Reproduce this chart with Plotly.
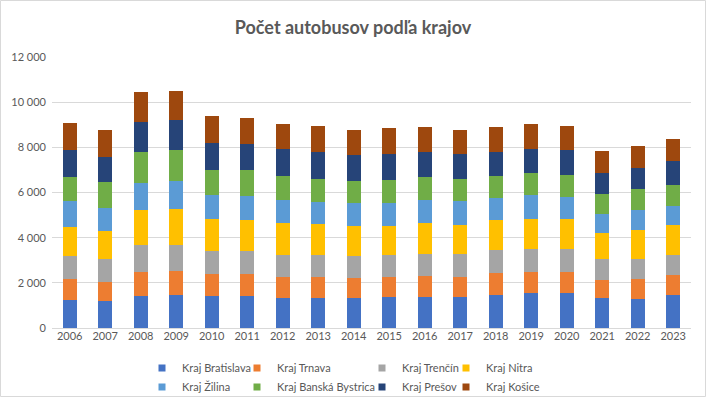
import plotly.graph_objects as go

years = [str(y) for y in range(2006, 2024)]

regions = ["Kraj Bratislava", "Kraj Trnava", "Kraj Trenčín", "Kraj Nitra",
           "Kraj Žilina", "Kraj Banská Bystrica", "Kraj Prešov", "Kraj Košice"]

bratislava = [1250, 1207, 1428, 1472, 1428, 1428, 1340, 1340, 1340, 1384, 1384, 1384, 1472, 1561, 1561, 1340, 1296, 1472]
trnava     = [930, 840, 1060, 1060, 972, 972, 927, 927, 883, 883, 928, 883, 972, 927, 927, 795, 883, 884]
trencin    = [1015, 1015, 1193, 1149, 1016, 1016, 972, 972, 972, 972, 971, 1016, 1016, 1016, 1016, 927, 883, 883]
nitra      = [1280, 1237, 1546, 1590, 1413, 1369, 1413, 1369, 1325, 1281, 1369, 1281, 1325, 1325, 1325, 1149, 1281, 1325]
zilina     = [1135, 1031, 1178, 1237, 1060, 1075, 1031, 987, 1016, 1016, 1031, 1060, 986, 1060, 972, 854, 898, 854]
banska     = [1075, 1134, 1384, 1369, 1104, 1133, 1046, 1001, 972, 1016, 1002, 972, 958, 972, 972, 868, 913, 913]
presov     = [1190, 1104, 1325, 1325, 1193, 1149, 1192, 1193, 1148, 1148, 1104, 1104, 1060, 1060, 1104, 928, 928, 1060]
kosice     = [1190, 1192, 1325, 1281, 1193, 1148, 1104, 1148, 1104, 1149, 1104, 1060, 1104, 1104, 1060, 972, 972, 972]

series = [bratislava, trnava, trencin, nitra, zilina, banska, presov, kosice]
colors = ["#4472C4", "#ED7D31", "#A5A5A5", "#FFC000",
          "#5B9BD5", "#70AD47", "#264478", "#9E480E"]

y_tickvals = [0, 2000, 4000, 6000, 8000, 10000, 12000]
y_ticktext = ["0", "2 000", "4 000", "6 000", "8 000", "10 000", "12 000"]

W, H = 706, 397
ML, MR, MT, MB = 52, 15, 57, 69
PW, PH = W - ML - MR, H - MT - MB

def px_to_xp(px):
    return (px - ML) / PW

def py_to_yp(py):
    return (H - MB - py) / PH

FONT = "Lato"
TXT = "#595959"
FS = 11

# legend columns: (legend id, trace indices, text start px)
legend_cols = [("legend", [0, 4], 182), ("legend2", [1, 5], 277),
               ("legend3", [2, 6], 402), ("legend4", [3, 7], 486)]
trace_legend = {}
for lid, idxs, _ in legend_cols:
    for i in idxs:
        trace_legend[i] = lid

fig = go.Figure()
for i, (name, vals, col) in enumerate(zip(regions, series, colors)):
    fig.add_trace(go.Bar(
        x=years, y=vals, name=name, marker=dict(color=col, line=dict(width=0)),
        legendgroup=name, showlegend=False,
    ))
# legend entries (small square keys like the reference)
for i, (name, col) in enumerate(zip(regions, colors)):
    fig.add_trace(go.Scatter(
        x=[None], y=[None], mode="markers", name=name, legendgroup=name,
        marker=dict(symbol="square", size=7, color=col, line=dict(width=0)),
        legend=trace_legend[i], showlegend=True, hoverinfo="skip",
    ))

legend_common = dict(
    orientation="v", yanchor="middle", y=py_to_yp(377.5), xanchor="left",
    font=dict(family=FONT, size=FS, color=TXT), bgcolor="rgba(0,0,0,0)",
    tracegroupgap=0, traceorder="normal", itemsizing="trace",
)
layout_legends = {}
for lid, _, tx in legend_cols:
    layout_legends[lid] = dict(legend_common, x=px_to_xp(tx - 40))

fig.update_layout(
    width=W, height=H,
    margin=dict(l=ML, r=MR, t=MT, b=MB, autoexpand=False),
    barmode="stack", bargap=0.6,
    paper_bgcolor="white", plot_bgcolor="white",
    font=dict(family=FONT, size=FS, color=TXT),
    title=dict(text="Počet autobusov podľa krajov", x=0.5, xref="container", xanchor="center",
               y=1 - 28 / H, yanchor="middle",
               font=dict(family=FONT, size=18, color=TXT, weight="bold")),
    xaxis=dict(type="category", showgrid=False, showline=True, linecolor="#D9D9D9",
               linewidth=1, ticks="", ticklabelstandoff=-2,
               tickfont=dict(family=FONT, size=FS, color=TXT)),
    yaxis=dict(range=[0, 12000], tickvals=y_tickvals, ticktext=y_ticktext,
               showgrid=True, gridcolor="#D9D9D9", gridwidth=1, zeroline=False,
               showline=False, ticks="", ticklabelstandoff=5,
               tickfont=dict(family=FONT, size=FS, color=TXT)),
    showlegend=True,
    **layout_legends,
)

# outer chart border
fig.add_shape(type="rect", xref="paper", yref="paper",
              x0=px_to_xp(0.5), x1=px_to_xp(W - 0.5),
              y0=py_to_yp(H - 0.5), y1=py_to_yp(0.5),
              line=dict(color="#D9D9D9", width=1), fillcolor="rgba(0,0,0,0)",
              layer="below")

fig.write_html("out.html", config={"displayModeBar": False},
               post_script="document.body.style.margin='0px';")
